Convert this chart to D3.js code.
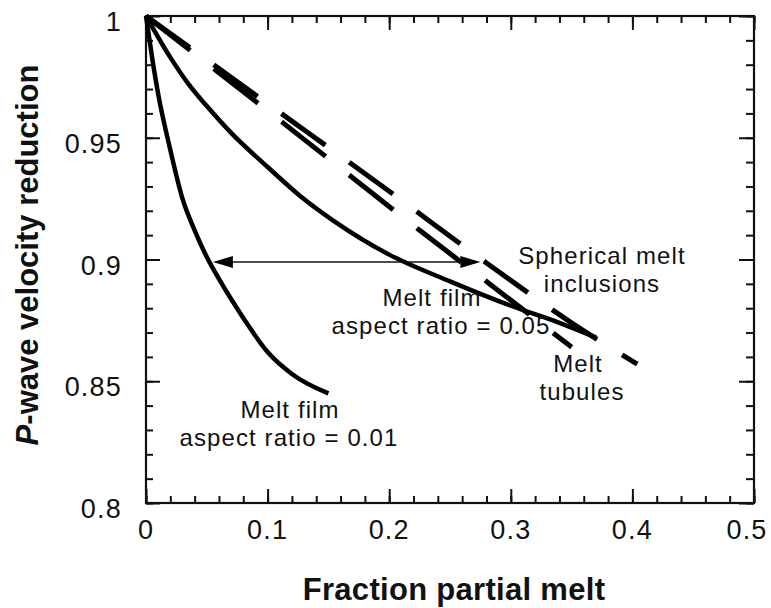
<!DOCTYPE html>
<html>
<head>
<meta charset="utf-8">
<script src="https://cdn.jsdelivr.net/npm/d3@7"></script>
<style>
  html, body { margin: 0; padding: 0; background: #fff; }
  svg { display: block; }
  text { font-family: "Liberation Sans", Arial, Helvetica, sans-serif; fill: #111; }
</style>
</head>
<body>
<svg id="chart" width="771" height="608"></svg>
<script>
// ---- data ----
const xTickValues = [0, 0.1, 0.2, 0.3, 0.4, 0.5];
const xTickLabels = ["0", "0.1", "0.2", "0.3", "0.4", "0.5"];
const yTickValues = [0.8, 0.85, 0.9, 0.95, 1];
const yTickLabels = ["0.8", "0.85", "0.9", "0.95", "1"];

const film01X = [0, 0.005, 0.01, 0.02, 0.03, 0.04, 0.05, 0.06, 0.08, 0.1, 0.12, 0.15];
const film01Y = [1, 0.983, 0.968, 0.945, 0.925, 0.912, 0.901, 0.892, 0.876, 0.862, 0.853, 0.845];

const film05X = [0, 0.02, 0.035, 0.05, 0.07, 0.1, 0.127, 0.154, 0.2, 0.25, 0.3, 0.34, 0.37];
const film05Y = [1, 0.983, 0.972, 0.963, 0.952, 0.938, 0.926, 0.916, 0.902, 0.891, 0.881, 0.874, 0.868];

const sphereX = [0, 0.1, 0.2, 0.28, 0.35, 0.404];
const sphereY = [1, 0.964, 0.928, 0.8986, 0.874, 0.857];

const tubeX = [0, 0.113, 0.225, 0.28, 0.35];
const tubeY = [1, 0.956, 0.912, 0.891, 0.864];

const arrowX = [0.055, 0.275];
const arrowY = 0.899;

// ---- layout ----
const svg = d3.select("#chart");
const x = d3.scaleLinear().domain([0, 0.5]).range([146, 754]);
const y = d3.scaleLinear().domain([0.8, 1]).range([503, 16]);

const line = d3.line().x(d => x(d[0])).y(d => y(d[1])).curve(d3.curveMonotoneX);
const zip = (a, b) => a.map((v, i) => [v, b[i]]);

// ---- axes (inward ticks on all four sides) ----
const xMinor = d3.range(0, 0.5001, 0.02);
const yMinor = d3.range(0.8, 1.0001, 0.01);
function drawAxis(axisGen, transform) {
  const g = svg.append("g").attr("transform", transform).call(axisGen);
  g.selectAll("text").remove();
  g.select(".domain").remove();
  g.selectAll("line").attr("stroke", "#111").attr("stroke-width", 2);
  return g;
}
drawAxis(d3.axisBottom(x).tickValues(xMinor).tickSize(-7), "translate(0,503)");
drawAxis(d3.axisBottom(x).tickValues(xTickValues).tickSize(-14), "translate(0,503)");
drawAxis(d3.axisTop(x).tickValues(xMinor).tickSize(-7), "translate(0,16)");
drawAxis(d3.axisTop(x).tickValues(xTickValues).tickSize(-14), "translate(0,16)");
drawAxis(d3.axisLeft(y).tickValues(yMinor).tickSize(-7), "translate(146,0)");
drawAxis(d3.axisLeft(y).tickValues(yTickValues).tickSize(-14), "translate(146,0)");
drawAxis(d3.axisRight(y).tickValues(yMinor).tickSize(-8), "translate(754,0)");
drawAxis(d3.axisRight(y).tickValues(yTickValues).tickSize(-15), "translate(754,0)");

svg.append("rect")
  .attr("x", x(0)).attr("y", y(1))
  .attr("width", x(0.5) - x(0)).attr("height", y(0.8) - y(1))
  .attr("fill", "none").attr("stroke", "#111").attr("stroke-width", 2.2);

// tick labels
svg.append("g").selectAll("text").data(xTickValues).join("text")
  .attr("x", d => Math.min(x(d), 747)).attr("y", 539)
  .attr("text-anchor", "middle").attr("font-size", 27).attr("letter-spacing", 1.2)
  .text((d, i) => xTickLabels[i]);
svg.append("g").selectAll("text").data(yTickValues).join("text")
  .attr("x", 122).attr("y", d => y(d) + 15)
  .attr("text-anchor", "end").attr("font-size", 27).attr("letter-spacing", 1.2)
  .text((d, i) => yTickLabels[i]);

// axis titles
svg.append("text").attr("x", 454).attr("y", 600)
  .attr("text-anchor", "middle").attr("font-size", 31).attr("font-weight", "bold")
  .attr("letter-spacing", 0.3)
  .text("Fraction partial melt");
const yt = svg.append("text")
  .attr("transform", "translate(38,255) rotate(-90)")
  .attr("text-anchor", "middle").attr("font-size", 31).attr("font-weight", "bold");
yt.append("tspan").attr("font-style", "italic").text("P");
yt.append("tspan").text("-wave velocity reduction");

// ---- series ----
svg.append("path").datum(zip(film01X, film01Y)).attr("d", line)
  .attr("fill", "none").attr("stroke", "#000").attr("stroke-width", 4.5);
svg.append("path").datum(zip(film05X, film05Y)).attr("d", line)
  .attr("fill", "none").attr("stroke", "#000").attr("stroke-width", 4.5);
svg.append("path").datum(zip(sphereX, sphereY)).attr("d", line)
  .attr("fill", "none").attr("stroke", "#000").attr("stroke-width", 5)
  .attr("stroke-dasharray", "54,29.5");
svg.append("path").datum(zip(tubeX, tubeY)).attr("d", line)
  .attr("fill", "none").attr("stroke", "#000").attr("stroke-width", 5)
  .attr("stroke-dasharray", "56,30");

// ---- double arrow ----
const ax0 = x(arrowX[0]), ax1 = x(arrowX[1]), ay = y(arrowY);
svg.append("line").attr("x1", ax0 + 10).attr("x2", ax1 - 10).attr("y1", ay).attr("y2", ay)
  .attr("stroke", "#111").attr("stroke-width", 1.6);
svg.append("path")
  .attr("d", `M${ax0},${ay} L${ax0 + 20},${ay - 6} L${ax0 + 20},${ay + 6} Z`)
  .attr("fill", "#000");
svg.append("path")
  .attr("d", `M${ax1},${ay} L${ax1 - 20},${ay - 6} L${ax1 - 20},${ay + 6} Z`)
  .attr("fill", "#000");

// ---- annotations (two-line labels) ----
const notes = [
  { lines: ["Spherical melt", "inclusions"], x: [602, 602], y: 264 },
  { lines: ["Melt film", "aspect ratio = 0.05"], x: [432, 441], y: 306 },
  { lines: ["Melt", "tubules"], x: [578, 582], y: 372 },
  { lines: ["Melt film", "aspect ratio = 0.01"], x: [290, 289], y: 418 }
];
const nt = svg.append("g").selectAll("text").data(notes).join("text")
  .attr("y", d => d.y)
  .attr("text-anchor", "middle").attr("font-size", 24).attr("letter-spacing", 1.1);
nt.selectAll("tspan").data(d => d.lines.map((t, i) => ({ t, i, x: d.x[i] }))).join("tspan")
  .attr("x", d => d.x).attr("dy", d => d.i === 0 ? 0 : 27.5)
  .text(d => d.t);
</script>
</body>
</html>
